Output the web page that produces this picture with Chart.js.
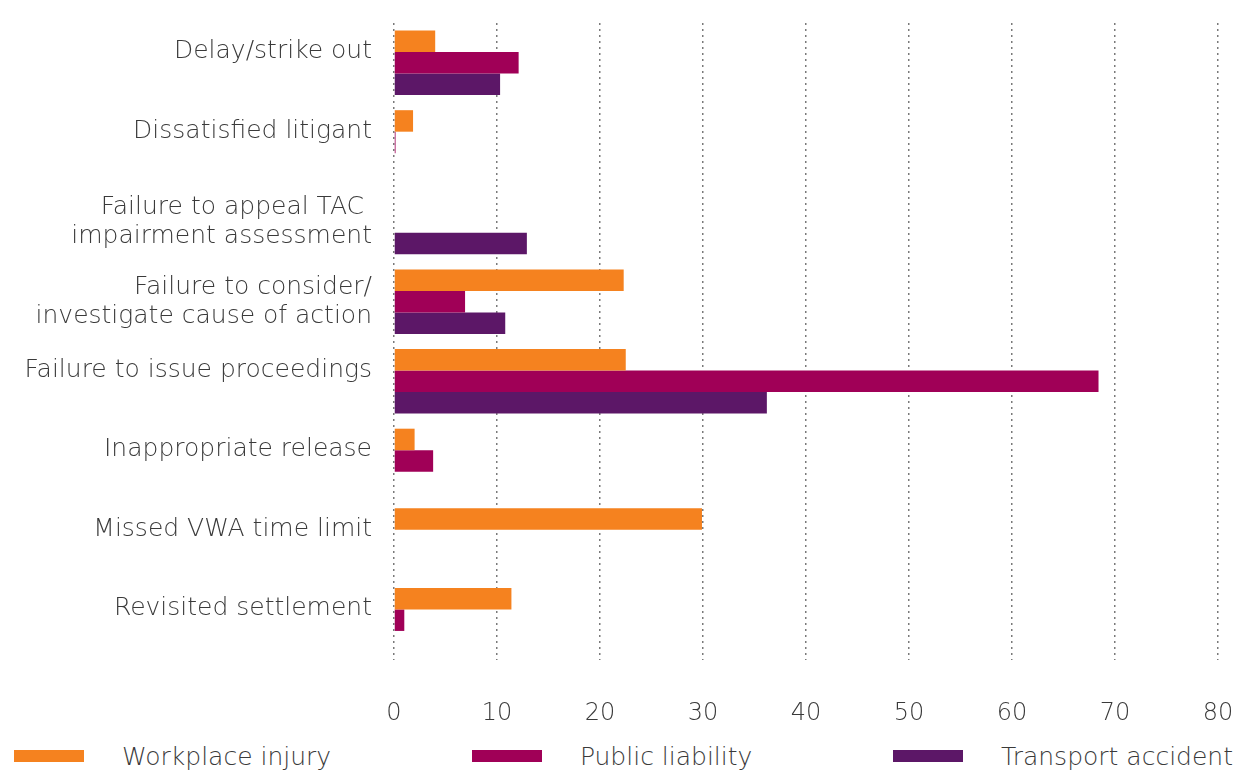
<!DOCTYPE html>
<html>
<head>
<meta charset="utf-8">
<script src="https://cdn.jsdelivr.net/npm/chart.js@4/dist/chart.umd.min.js"></script>
<style>
    body { margin: 0; background: #fff; }
    #wrap { position: relative; width: 1239px; height: 771px; }
    #chartBox { position: absolute; left: 0; top: 0; width: 1239px; height: 735px; }
    #legend {
        position: absolute; left: 14px; right: 6px; top: 739px; height: 34px;
        display: flex; justify-content: space-between; align-items: center;
        font-family: "DejaVu Sans", sans-serif; font-weight: 200; font-size: 25px; color: #3a3a3a;
    }
    .item { display: flex; align-items: center; }
    .swatch { width: 70px; height: 12px; margin-right: 38px; }
</style>
</head>
<body>
<div id="wrap">
    <div id="chartBox"><canvas id="chart"></canvas></div>
    <div id="legend"></div>
</div>
<script>
// Catégories (axe vertical) et séries
const categories = [
    ["Delay/strike out", ""],
    ["Dissatisfied litigant", ""],
    ["Failure to appeal TAC ", "impairment assessment"],
    ["Failure to consider/", "investigate cause of action"],
    ["Failure to issue proceedings", ""],
    ["Inappropriate release", ""],
    ["Missed VWA time limit", ""],
    ["Revisited settlement", ""]
];
const workplaceInjury   = [4.0, 1.85, 0, 22.3, 22.5, 2.0, 29.9, 11.4];
const publicLiability   = [12.1, 0.15, 0, 6.9, 68.4, 3.8, 0, 1.0];
const transportAccident = [10.3, 0, 12.9, 10.8, 36.2, 0, 0, 0];
const seriesNames = ["Workplace injury", "Public liability", "Transport accident"];
const seriesColors = ["#F5821F", "#A00057", "#5C1767"];
const xTicks = [0, 10, 20, 30, 40, 50, 60, 70, 80];

const textColor = "#3a3a3a";
const fontFamily = "'DejaVu Sans', sans-serif";

document.addEventListener("DOMContentLoaded", () => {
    const ctx = document.getElementById("chart");
    const seriesData = [workplaceInjury, publicLiability, transportAccident];

    new Chart(ctx, {
        type: "bar",
        data: {
            labels: categories,
            datasets: seriesData.map((values, i) => ({
                label: seriesNames[i],
                data: values,
                backgroundColor: seriesColors[i],
                borderWidth: 0,
                categoryPercentage: 0.81,
                barPercentage: 1.0
            }))
        },
        options: {
            indexAxis: "y",
            responsive: true,
            maintainAspectRatio: false,
            animation: false,
            layout: { padding: { top: 23, right: 21, bottom: 0, left: 0 } },
            plugins: {
                legend: { display: false },
                tooltip: { enabled: false }
            },
            scales: {
                x: {
                    min: 0,
                    max: 80,
                    afterBuildTicks: (scale) => {
                        scale.ticks = xTicks.map(v => ({ value: v }));
                    },
                    afterFit: (scale) => {
                        scale.height = 75;
                        scale.paddingLeft = 0;
                        scale.paddingRight = 0;
                    },
                    border: { display: false, dash: [2, 4] },
                    grid: {
                        color: "#7a7a7a",
                        lineWidth: 1.5,
                        drawTicks: false
                    },
                    ticks: {
                        color: textColor,
                        padding: 39,
                        maxRotation: 0,
                        font: { family: fontFamily, size: 24, weight: 200 }
                    }
                },
                y: {
                    afterFit: (scale) => {
                        scale.width = 394;
                        scale.paddingTop = 0;
                        scale.paddingBottom = 0;
                    },
                    border: { display: false },
                    grid: { display: false, drawTicks: false },
                    ticks: {
                        color: textColor,
                        padding: 22,
                        autoSkip: false,
                        font: (c) => {
                            // une ligne vide sert à remonter les libellés d'une ligne
                            const lbl = categories[c.index] || [];
                            const single = lbl[1] === "";
                            return { family: fontFamily, size: 25, weight: 200, lineHeight: single ? 0.9 : 1.15 };
                        }
                    }
                }
            }
        }
    });

    // Légende HTML
    const legend = document.getElementById("legend");
    seriesNames.forEach((name, i) => {
        const item = document.createElement("div");
        item.className = "item";
        item.innerHTML = `<span class="swatch" style="background:${seriesColors[i]}"></span><span>${name}</span>`;
        legend.appendChild(item);
    });
});
</script>
</body>
</html>
